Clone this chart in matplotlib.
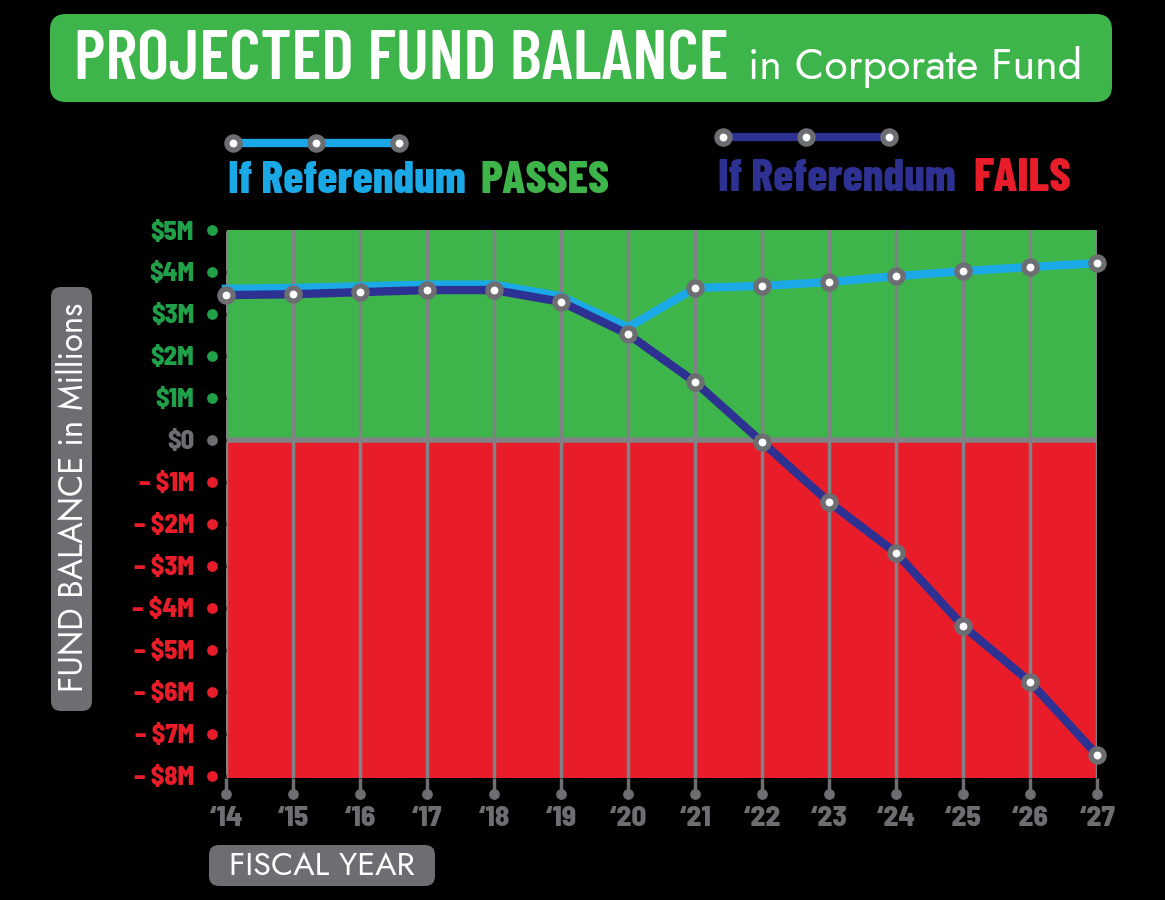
import matplotlib.pyplot as plt
from matplotlib.patches import FancyBboxPatch
from matplotlib.lines import Line2D
from matplotlib.transforms import IdentityTransform, blended_transform_factory

# data
years = [2014, 2015, 2016, 2017, 2018, 2019, 2020, 2021, 2022, 2023, 2024, 2025, 2026, 2027]
year_labels = ["\u201814", "\u201815", "\u201816", "\u201817", "\u201818", "\u201819", "\u201820",
               "\u201821", "\u201822", "\u201823", "\u201824", "\u201825", "\u201826", "\u201827"]
passes = [3.6, 3.62, 3.66, 3.7, 3.7, 3.42, 2.68, 3.62, 3.67, 3.76, 3.9, 4.02, 4.12, 4.21]
fails = [3.45, 3.47, 3.52, 3.57, 3.57, 3.29, 2.52, 1.38, -0.05, -1.48, -2.69, -4.43, -5.76, -7.5]
y_ticks = [5, 4, 3, 2, 1, 0, -1, -2, -3, -4, -5, -6, -7, -8]
y_tick_labels = ["\\$5M", "\\$4M", "\\$3M", "\\$2M", "\\$1M", "\\$0",
                 "\u2013 \\$1M", "\u2013 \\$2M", "\u2013 \\$3M", "\u2013 \\$4M",
                 "\u2013 \\$5M", "\u2013 \\$6M", "\u2013 \\$7M", "\u2013 \\$8M"]

GREEN = "#3db54a"
LABEL_GREEN = "#21a04a"
RED = "#e91d2a"
LIGHT_BLUE = "#1aa9e6"
DARK_BLUE = "#2d3191"
GREY = "#6d6e71"
GRID = "#808285"

W, H = 1165, 900
CONDENSED = ["Barlow Condensed", "Liberation Sans Narrow", "DejaVu Sans"]
SEMI = ["Barlow Semi Condensed", "DejaVu Sans"]
BODY = ["Jost", "Lato", "DejaVu Sans"]

fig = plt.figure(figsize=(W / 100, H / 100), dpi=100, facecolor="black")
renderer = fig.canvas.get_renderer()


def fit(t, size_px, vertical=False):
    # scale the font so the text spans the same number of pixels as in the reference
    bb = t.get_window_extent(renderer)
    cur = bb.height if vertical else bb.width
    t.set_fontsize(t.get_fontsize() * size_px / cur)


# plot area: x 226..1097, y 230..778
ax = fig.add_axes([226 / W, 1 - 778 / H, (1097 - 226) / W, (778 - 230) / H])
ax.set_facecolor("black")
ax.set_xlim(2014, 2027)
ax.set_ylim(-8.05, 5.0)
ax.axhspan(0, 5.0, color=GREEN, zorder=0)
ax.axhspan(-8.05, 0, color=RED, zorder=0)
for yr in years:
    ax.axvline(yr, color=GRID, lw=2.5, zorder=1)
ax.axhline(0, color=GRID, lw=4, zorder=1)
for s in ax.spines.values():
    s.set_visible(False)

# lines
ax.plot(years, passes, color=LIGHT_BLUE, lw=6, zorder=3, clip_on=False)
ax.plot(years, fails, color=DARK_BLUE, lw=6, zorder=4, clip_on=False)
mk = dict(ls="none", marker="o", ms=9.5, mfc="white", mec=GREY, mew=3.8, zorder=5, clip_on=False)
ax.plot(years[7:], passes[7:], **mk)
ax.plot(years, fails, **mk)

# y ticks
ax.set_yticks(y_ticks)
ax.set_yticklabels(y_tick_labels, fontsize=19, fontweight=800, family=SEMI)
ax.tick_params(axis="y", length=10, width=2.5, pad=13)
ytr = blended_transform_factory(ax.transAxes, ax.transData)
for t, lab, v in zip(ax.yaxis.get_major_ticks(), ax.get_yticklabels(), y_ticks):
    c = LABEL_GREEN if v > 0 else (GREY if v == 0 else RED)
    t.tick1line.set_color(c)
    lab.set_color(c)
    ax.scatter([-0.016], [v], s=45, color=c, transform=ytr, clip_on=False, zorder=6)

# x ticks
ax.set_xticks(years)
ax.set_xticklabels(year_labels, fontsize=21, fontweight=800, color=GREY, family=SEMI)
ax.tick_params(axis="x", length=11, width=2.5, color=GREY, pad=9)
xtr = blended_transform_factory(ax.transData, ax.transAxes)
ax.scatter(years, [-0.029] * len(years), s=45, color=GREY, transform=xtr, clip_on=False, zorder=6)

# title box
ident = IdentityTransform()
fig.patches.append(FancyBboxPatch((50, H - 102), 1112 - 50, 102 - 14, boxstyle="round,pad=0,rounding_size=16",
                                  transform=ident, facecolor=GREEN, edgecolor="none"))
t = fig.text(74 / W, 1 - 79 / H, "PROJECTED FUND BALANCE", color="white", fontsize=40,
             fontweight=600, family=CONDENSED, va="baseline", ha="left")
fit(t, 654)
t = fig.text(748 / W, 1 - 79 / H, "in Corporate Fund", color="white", fontsize=27,
             family=BODY, va="baseline", ha="left")
fit(t, 334)


# legend
def legend_item(x1, x2, y, color, base, word, wcolor, wx, wwidth):
    xs = [x1 / W, (x1 + x2) / 2 / W, x2 / W]
    ys = [1 - y / H] * 3
    fig.lines.append(Line2D(xs, ys, color=color, lw=6, transform=fig.transFigure))
    fig.lines.append(Line2D(xs, ys, transform=fig.transFigure, **mk))
    t1 = fig.text((x1 - 5) / W, 1 - base / H, "If Referendum", color=color, fontsize=30,
                  fontweight=800, family=CONDENSED, va="baseline", ha="left")
    fit(t1, 238)
    t2 = fig.text(wx / W, 1 - base / H, word, color=wcolor, fontsize=30,
                  fontweight=800, family=CONDENSED, va="baseline", ha="left")
    fit(t2, wwidth)


legend_item(233, 399, 143, LIGHT_BLUE, 193, "PASSES", GREEN, 480, 129)
legend_item(723, 889, 137, DARK_BLUE, 191, "FAILS", RED, 973, 98)

# axis label boxes
fig.patches.append(FancyBboxPatch((51, H - 711), 41, 711 - 287, boxstyle="round,pad=0,rounding_size=10",
                                  transform=ident, facecolor=GREY, edgecolor="none"))
t = fig.text(73 / W, 1 - 497 / H, "FUND BALANCE in Millions", color="white", fontsize=20,
             family=BODY, rotation=90, va="center", ha="center")
fit(t, 390, vertical=True)

fig.patches.append(FancyBboxPatch((209, H - 886), 435 - 209, 886 - 845, boxstyle="round,pad=0,rounding_size=10",
                                  transform=ident, facecolor=GREY, edgecolor="none"))
t = fig.text(322 / W, 1 - 866 / H, "FISCAL YEAR", color="white", fontsize=21,
             family=BODY, va="center", ha="center")
fit(t, 186)

fig.savefig("out.png", dpi=100, facecolor="black")
